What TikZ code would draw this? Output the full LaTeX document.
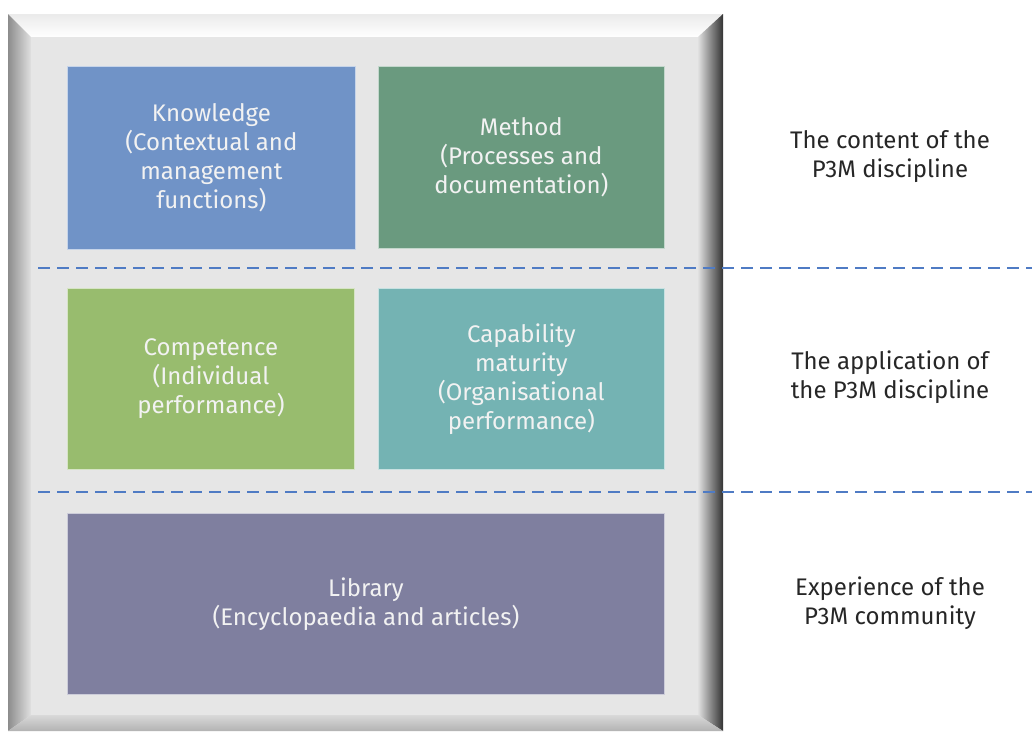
\documentclass[tikz,border=0pt]{standalone}
\usepackage{fontspec}
\setmainfont{Fira Sans}
\begin{document}
\begin{tikzpicture}[x=1pt,y=-1pt,
  blk/.style={rectangle, draw=white!60!#1, line width=0.8pt, fill=#1, inner sep=0pt, anchor=north west,
    text=white!95!black, align=center, font=\fontsize{24}{29}\selectfont},
  side/.style={align=center, text=black!85, font=\fontsize{24}{29}\selectfont},
  sep/.style={draw=dashblue, line width=1.4pt, dash pattern=on 12pt off 7pt}]
\definecolor{cKnow}{HTML}{7093C7}
\definecolor{cMeth}{HTML}{6A9A7F}
\definecolor{cComp}{HTML}{98BC6E}
\definecolor{cCap}{HTML}{74B3B3}
\definecolor{cLib}{HTML}{7F7F9F}
\definecolor{dashblue}{HTML}{4F7BC4}
\definecolor{face}{HTML}{E6E6E6}
\useasboundingbox (0,0) rectangle (1032,731);
% bevelled frame
\fill[face] (8,14) rectangle (723,731);
\shade[top color=black!8, bottom color=white] (8,14) -- (723,14) -- (698,37) -- (31,37) -- cycle;
\shade[left color=black!45, right color=black!12] (8,14) -- (31,37) -- (31,715) -- (8,731) -- cycle;
\shade[left color=black!12, right color=black!80] (723,14) -- (723,731) -- (698,715) -- (698,37) -- cycle;
\shade[top color=black!15, bottom color=black!30] (8,731) -- (31,715) -- (698,715) -- (723,731) -- cycle;
\fill[face] (31,37) rectangle (698,715);
% blocks
\node[blk=cKnow, minimum width=288pt, minimum height=183pt] (know) at (67,66)
  {Knowledge\\(Contextual and\\management\\functions)};
\node[blk=cMeth, minimum width=286pt, minimum height=182pt] (meth) at (378,66)
  {Method\\(Processes and\\documentation)};
\node[blk=cComp, minimum width=287pt, minimum height=181pt] (comp) at (67,288)
  {Competence\\(Individual\\performance)};
\node[blk=cCap, minimum width=286pt, minimum height=181pt] (cap) at (378,288)
  {Capability\\maturity\\(Organisational\\performance)};
\node[blk=cLib, minimum width=597pt, minimum height=181pt] (lib) at (67,513)
  {Library\\(Encyclopaedia and articles)};
% separators
\coordinate (d1s) at (38,268); \coordinate (d1e) at (1032,268);
\coordinate (d2s) at (38,492); \coordinate (d2e) at (1032,492);
\draw[sep] (d1s) -- (d1e);
\draw[sep] (d2s) -- (d2e);
% side labels
\node[side] (l1) at (890,157) {The content of the\\P3M discipline};
\node[side] (l2) at (890,377) {The application of\\the P3M discipline};
\node[side] (l3) at (890,603) {Experience of the\\P3M community};
\end{tikzpicture}
\end{document}
